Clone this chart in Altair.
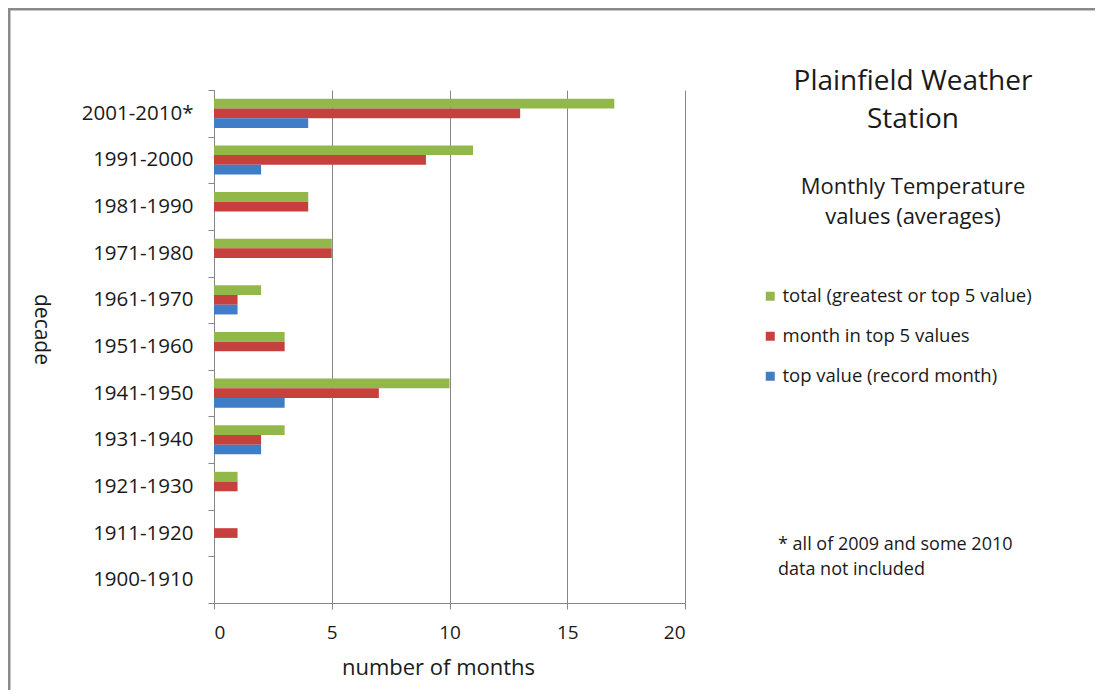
import altair as alt
import pandas as pd

decades = ["2001-2010*", "1991-2000", "1981-1990", "1971-1980", "1961-1970",
           "1951-1960", "1941-1950", "1931-1940", "1921-1930", "1911-1920", "1900-1910"]
total_vals = [17, 11, 4, 5, 2, 3, 10, 3, 1, 0, 0]
top5_vals = [13, 9, 4, 5, 1, 3, 7, 2, 1, 1, 0]
record_vals = [4, 2, 0, 0, 1, 0, 3, 2, 0, 0, 0]
series = ["total (greatest or top 5 value)", "month in top 5 values", "top value (record month)"]
colors = ["#93B84A", "#C6403E", "#3F7DC6"]

rows = []
for d, a, b, c in zip(decades, total_vals, top5_vals, record_vals):
    rows.append({"decade": d, "series": series[0], "months": a})
    rows.append({"decade": d, "series": series[1], "months": b})
    rows.append({"decade": d, "series": series[2], "months": c})
df = pd.DataFrame(rows)

FONT = "Open Sans"
W, H = 471, 513
TXT = "#1a1a1a"

bars = alt.Chart(df).mark_bar().encode(
    x=alt.X("months:Q", title="number of months",
            scale=alt.Scale(domain=[0, 20], nice=False),
            axis=alt.Axis(values=[0, 5, 10, 15, 20], grid=True, gridColor="#868686",
                          domainColor="#868686", tickColor="#868686", tickSize=6,
                          labelFontSize=19, labelPadding=14, labelColor=TXT,
                          titleFontSize=22, titleFontWeight="normal", titleColor=TXT,
                          titlePadding=15, titleX=224)),
    y=alt.Y("decade:N", sort=decades, title="decade",
            scale=alt.Scale(paddingInner=0, paddingOuter=0),
            axis=alt.Axis(tickBand="extent", domainColor="#868686", tickColor="#868686",
                          tickSize=6, labelFontSize=20.5, labelPadding=15, labelColor=TXT,
                          titleFontSize=21, titleFontWeight="normal", titleColor=TXT,
                          titleAngle=90, titleX=-174, titleY=239, titleAlign="center",
                          titleBaseline="middle")),
    yOffset=alt.YOffset("series:N", sort=series,
                        scale=alt.Scale(paddingInner=0, paddingOuter=0.9)),
    color=alt.Color("series:N", sort=series,
                    scale=alt.Scale(domain=series, range=colors),
                    legend=alt.Legend(title=None, orient="none", legendX=547, legendY=197,
                                      symbolType="square", symbolSize=81, symbolStrokeWidth=0,
                                      labelFontSize=18.5, labelColor=TXT, labelOffset=3,
                                      labelLimit=0, rowPadding=21)),
)

title_df = pd.DataFrame({"t": ["Plainfield Weather\nStation"]})
title = alt.Chart(title_df).mark_text(font=FONT, fontSize=28, lineBreak="\n", lineHeight=38,
                                      align="center", baseline="middle", color=TXT).encode(
    text="t:N", x=alt.value(699), y=alt.value(-8))

sub_df = pd.DataFrame({"t": ["Monthly Temperature\nvalues (averages)"]})
sub = alt.Chart(sub_df).mark_text(font=FONT, fontSize=22, lineBreak="\n", lineHeight=30,
                                  align="center", baseline="middle", color=TXT).encode(
    text="t:N", x=alt.value(699), y=alt.value(97))

note_df = pd.DataFrame({"t": ["* all of 2009 and some 2010\ndata not included"]})
note = alt.Chart(note_df).mark_text(font=FONT, fontSize=18, lineBreak="\n", lineHeight=25,
                                    align="left", baseline="middle", color=TXT).encode(
    text="t:N", x=alt.value(564), y=alt.value(455))

frame_l = alt.Chart(pd.DataFrame({"k": [0]})).mark_rule(color="#8a8a8a", strokeWidth=3).encode(
    x=alt.value(-205), y=alt.value(-82), y2=alt.value(600))
frame_t = alt.Chart(pd.DataFrame({"k": [0]})).mark_rule(color="#8a8a8a", strokeWidth=3).encode(
    x=alt.value(-206), x2=alt.value(881), y=alt.value(-81))

chart = alt.layer(bars, title, sub, note, frame_l, frame_t).properties(
    width=W, height=H,
    autosize=alt.AutoSizeParams(type="none"),
    padding={"left": 206, "top": 82, "right": 410, "bottom": 87},
).configure(font=FONT).configure_view(stroke=None).configure_text(font=FONT)

chart.save("out.html", embed_options={"renderer": "svg", "actions": False})
